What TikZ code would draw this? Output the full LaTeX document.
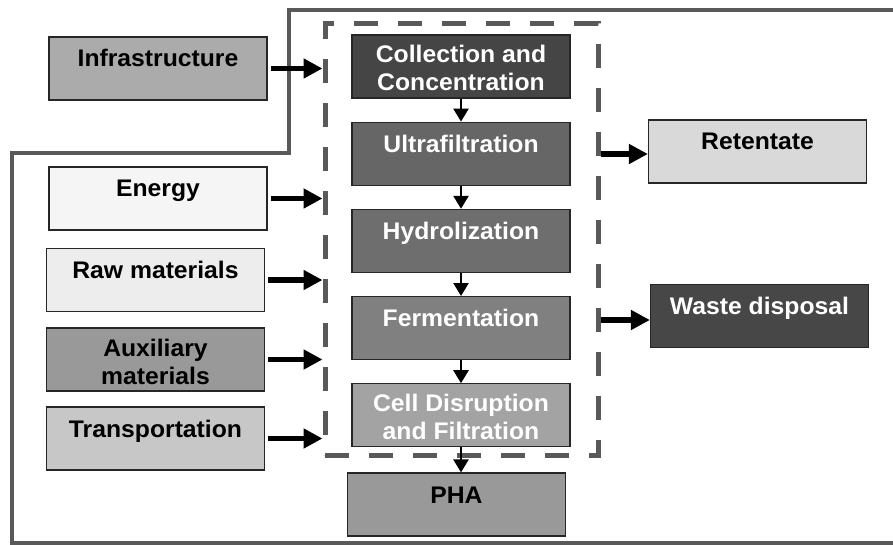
\documentclass[tikz,border=0pt]{standalone}
\usepackage{fontspec}
\setmainfont{Liberation Sans}[FakeStretch=1.03]
\usetikzlibrary{positioning, arrows.meta}
\definecolor{framegray}{gray}{0.35}
\definecolor{infrafill}{gray}{0.67}
\definecolor{energyfill}{gray}{0.96}
\definecolor{rawfill}{gray}{0.93}
\definecolor{auxfill}{gray}{0.6}
\definecolor{transfill}{gray}{0.78}
\definecolor{collfill}{gray}{0.27}
\definecolor{ultrafill}{gray}{0.4}
\definecolor{hydrofill}{gray}{0.43}
\definecolor{fermfill}{gray}{0.5}
\definecolor{cellfill}{gray}{0.64}
\definecolor{phafill}{gray}{0.6}
\definecolor{retfill}{gray}{0.85}
\definecolor{wastefill}{gray}{0.28}
\tikzset{
    box/.style={draw=black!85, line width=1.2pt, minimum width=218pt, minimum height=63pt, inner sep=2pt,
        text height=27pt, text depth=30pt, align=center, font=\fontsize{24}{28}\selectfont\bfseries}, % every box
    twolines/.style={text height=54pt, text depth=5pt}, % baseline sits on the last line
    flow/.style={-{Triangle[length=19pt,width=19pt]}, line width=5.5pt}, % thick arrows in and out
    down/.style={-{Triangle[length=13pt,width=15pt]}, line width=2.5pt}, % arrows between steps
    frame/.style={draw=framegray, line width=4pt},
    system/.style={draw=framegray, line width=5pt, dash pattern=on 24pt off 20pt}
}

\begin{document}
\begin{tikzpicture}[x=1pt, y=-1pt, node distance=23pt]
    \useasboundingbox (0,0) rectangle (893,545);

    % system boundary
    \draw[frame] (893,10) -| (289,153) -| (12,543) -- (893,543);
    \node[system, minimum width=273pt, minimum height=431pt] (proc) at (461.5,239.5) {};

    % inputs
    \node[box, fill=infrafill] (infra) at (158,68.5) {Infrastructure};
    \node[box, fill=energyfill] (energy) at (158,198.5) {Energy};
    \node[box, fill=rawfill] (raw) at (155.5,280) {Raw materials};
    \node[box, twolines, fill=auxfill] (aux) at (155.5,359.5) {Auxiliary\\materials};
    \node[box, fill=transfill] (trans) at (155.5,438.5) {Transportation};

    % process steps
    \node[box, twolines, fill=collfill, text=white] (coll) at (461,66.5) {Collection and\\Concentration};
    \node[box, fill=ultrafill, text=white] (ultra) [below=of coll] {Ultrafiltration};
    \node[box, fill=hydrofill, text=white] (hydro) [below=of ultra] {Hydrolization};
    \node[box, fill=fermfill, text=white] (ferm) [below=of hydro] {Fermentation};
    \node[box, twolines, fill=cellfill, text=white] (cell) [below=of ferm] {Cell Disruption\\and Filtration};
    \node[box, fill=phafill] (pha) [below=25pt of cell, xshift=-4.5pt] {PHA};

    % outputs
    \node[box, fill=retfill] (ret) at (757.5,151.5) {Retentate};
    \node[box, fill=wastefill, text=white] (waste) at (759.5,316) {Waste disposal};

    \draw[flow, shorten <=3pt] (infra.east) -- (infra.east -| proc.west);
    \draw[flow, shorten <=3pt] (energy.east) -- (energy.east -| proc.west);
    \draw[flow, shorten <=3pt] (raw.east) -- (raw.east -| proc.west);
    \draw[flow, shorten <=3pt] (aux.east) -- (aux.east -| proc.west);
    \draw[flow, shorten <=3pt] (trans.east) -- (trans.east -| proc.west);

    \draw[down] (coll) -- (ultra);
    \draw[down] (ultra) -- (hydro);
    \draw[down] (hydro) -- (ferm);
    \draw[down] (ferm) -- (cell);
    \draw[down] (cell.south) -- (cell.south |- pha.north);

    \draw[flow] ([yshift=-2.5pt]proc.east |- ret.west) -- ([yshift=-2.5pt]ret.west);
    \draw[flow] ([yshift=-4pt]proc.east |- waste.west) -- ([yshift=-4pt]waste.west);
\end{tikzpicture}
\end{document}
